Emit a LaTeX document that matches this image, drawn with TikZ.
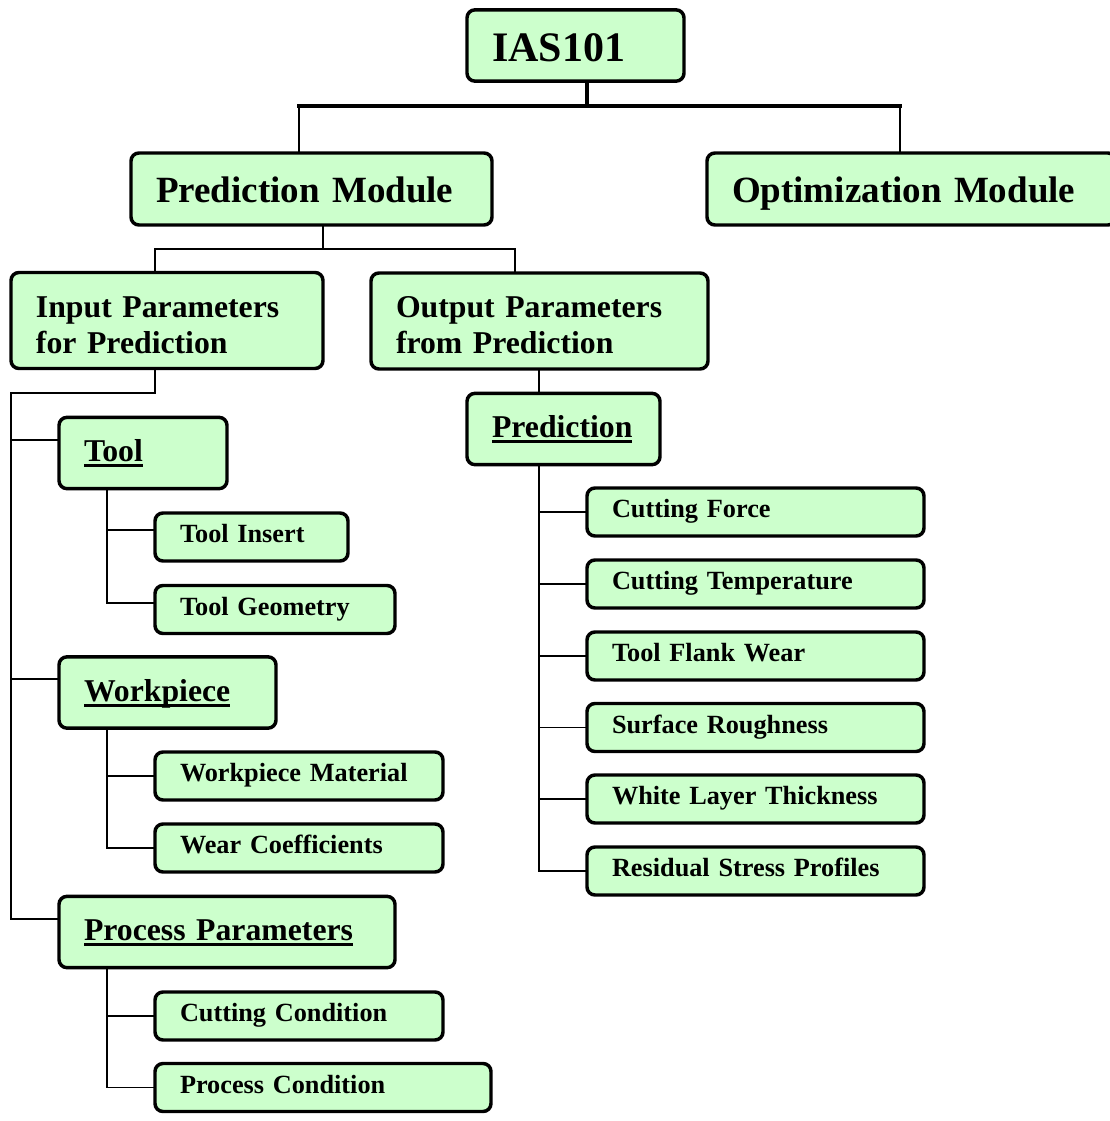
\documentclass[tikz,border=0pt]{standalone}
\usepackage{fontspec}
\setmainfont{Liberation Serif}
\definecolor{boxgreen}{HTML}{CCFFCC}
\newsavebox\ulbox
\newcommand\ulhead[1]{\sbox\ulbox{#1}\rlap{\rule[-0.18em]{\wd\ulbox}{0.09em}}\usebox\ulbox}

\begin{document}
\begin{tikzpicture}[x=0.75pt, y=-0.75pt, line width=1.4pt, line cap=rect,
    box/.style={draw, line width=2.6pt, rounded corners=6pt, fill=boxgreen,
      inner xsep=18.75pt, inner ysep=0pt, align=left},
    topbox/.style={box, minimum height=53.5pt, text height=23.3pt, text depth=0pt,
      font=\bfseries\fontsize{31.5}{36}\selectfont},
    modbox/.style={box, minimum height=54pt, text height=20.5pt, text depth=0pt,
      font=\bfseries\fontsize{27.75}{32}\selectfont},
    twobox/.style={box, minimum height=72pt, text height=16.7pt, text depth=21.9pt,
      font=\bfseries\fontsize{23.8}{27}\selectfont},
    headbox/.style={box, minimum height=53.5pt, text height=19.7pt, text depth=6.9pt,
      font=\bfseries\fontsize{23.8}{27}\selectfont},
    leafbox/.style={box, minimum height=36pt, text height=16.8pt, text depth=7.9pt,
      font=\bfseries\fontsize{19.7}{23}\selectfont},
    bus/.style={line width=2.5pt}]
  \path[use as bounding box, fill=white] (0,0) rectangle (1110,1121);
  \clip (0,0) rectangle (1110,1121);

  \node [topbox, text width=125.25pt] (ias) at (575.5,45.5) {IAS101};
  \node [modbox, text width=233.25pt] (predmod) at (311.5,189) {Prediction Module};
  \node [modbox, text width=269.25pt] (optmod) at (911.5,189) {Optimization Module};

  \node [twobox, text width=196.5pt] (input) at (167,320.5) {Input Parameters\\for Prediction};
  \node [twobox, text width=215.25pt] (output) at (539.5,321) {Output Parameters\\from Prediction};

  \node [headbox, text width=88.5pt] (tool) at (143,453) {\ulhead{Tool}};
  \node [leafbox, text width=107.25pt] (toolins) at (251.5,537) {Tool Insert};
  \node [leafbox, text width=142.5pt] (toolgeo) at (275,609.5) {Tool Geometry};
  \node [headbox, text width=125.25pt] (work) at (167.5,692.5) {\ulhead{Workpiece}};
  \node [leafbox, text width=178.5pt] (workmat) at (299,776) {Workpiece Material};
  \node [leafbox, text width=178.5pt] (wear) at (299,848) {Wear Coefficients};
  \node [headbox, text width=214.5pt] (proc) at (227,932) {\ulhead{Process Parameters}};
  \node [leafbox, text width=178.5pt] (cutcond) at (299,1016) {Cutting Condition};
  \node [leafbox, text width=214.5pt] (proccond) at (323,1087.5) {Process Condition};

  \node [headbox, text width=107.25pt] (pred) at (563.5,429) {\ulhead{Prediction}};
  \node [leafbox, text width=215.25pt] (force) at (755.5,512) {Cutting Force};
  \node [leafbox, text width=215.25pt] (temp) at (755.5,584) {Cutting Temperature};
  \node [leafbox, text width=215.25pt] (flank) at (755.5,656) {Tool Flank Wear};
  \node [leafbox, text width=215.25pt] (rough) at (755.5,727.5) {Surface Roughness};
  \node [leafbox, text width=215.25pt] (white) at (755.5,799) {White Layer Thickness};
  \node [leafbox, text width=215.25pt] (resid) at (755.5,871) {Residual Stress Profiles};

  \draw [bus] (ias.south -| 587,0) -- ++(0,23) coordinate (hub);
  \draw [bus] (hub -| 299,0) -- (hub -| 900,0);
  \draw (hub -| 299,0) -- (predmod.north -| 299,0);
  \draw (hub -| 900,0) -- (optmod.north -| 900,0);
  \draw (predmod.south -| 323,0) -- ++(0,22) -| (input.north -| 155,0);
  \draw (predmod.south -| 323,0) -- ++(0,22) -| (output.north -| 515,0);

  \coordinate (inspine) at (11,393);
  \draw (input.south -| 155,0) |- (inspine);
  \draw (inspine) |- ([yshift=10pt]tool.west);
  \draw (inspine) |- ([yshift=10pt]work.west);
  \draw (inspine) |- ([yshift=10pt]proc.west);
  \draw (tool.south -| 107,0) |- ([yshift=5pt]toolins.west);
  \draw (tool.south -| 107,0) |- ([yshift=5pt]toolgeo.west);
  \draw (work.south -| 107,0) |- (workmat.west);
  \draw (work.south -| 107,0) |- (wear.west);
  \draw (proc.south -| 107,0) |- (cutcond.west);
  \draw (proc.south -| 107,0) |- (proccond.west);

  \draw (output.south -| 539,0) -- (pred.north -| 539,0);
  \draw (pred.south -| 539,0) |- (force.west);
  \draw (pred.south -| 539,0) |- (temp.west);
  \draw (pred.south -| 539,0) |- (flank.west);
  \draw (pred.south -| 539,0) |- (rough.west);
  \draw (pred.south -| 539,0) |- (white.west);
  \draw (pred.south -| 539,0) |- (resid.west);
\end{tikzpicture}
\end{document}
